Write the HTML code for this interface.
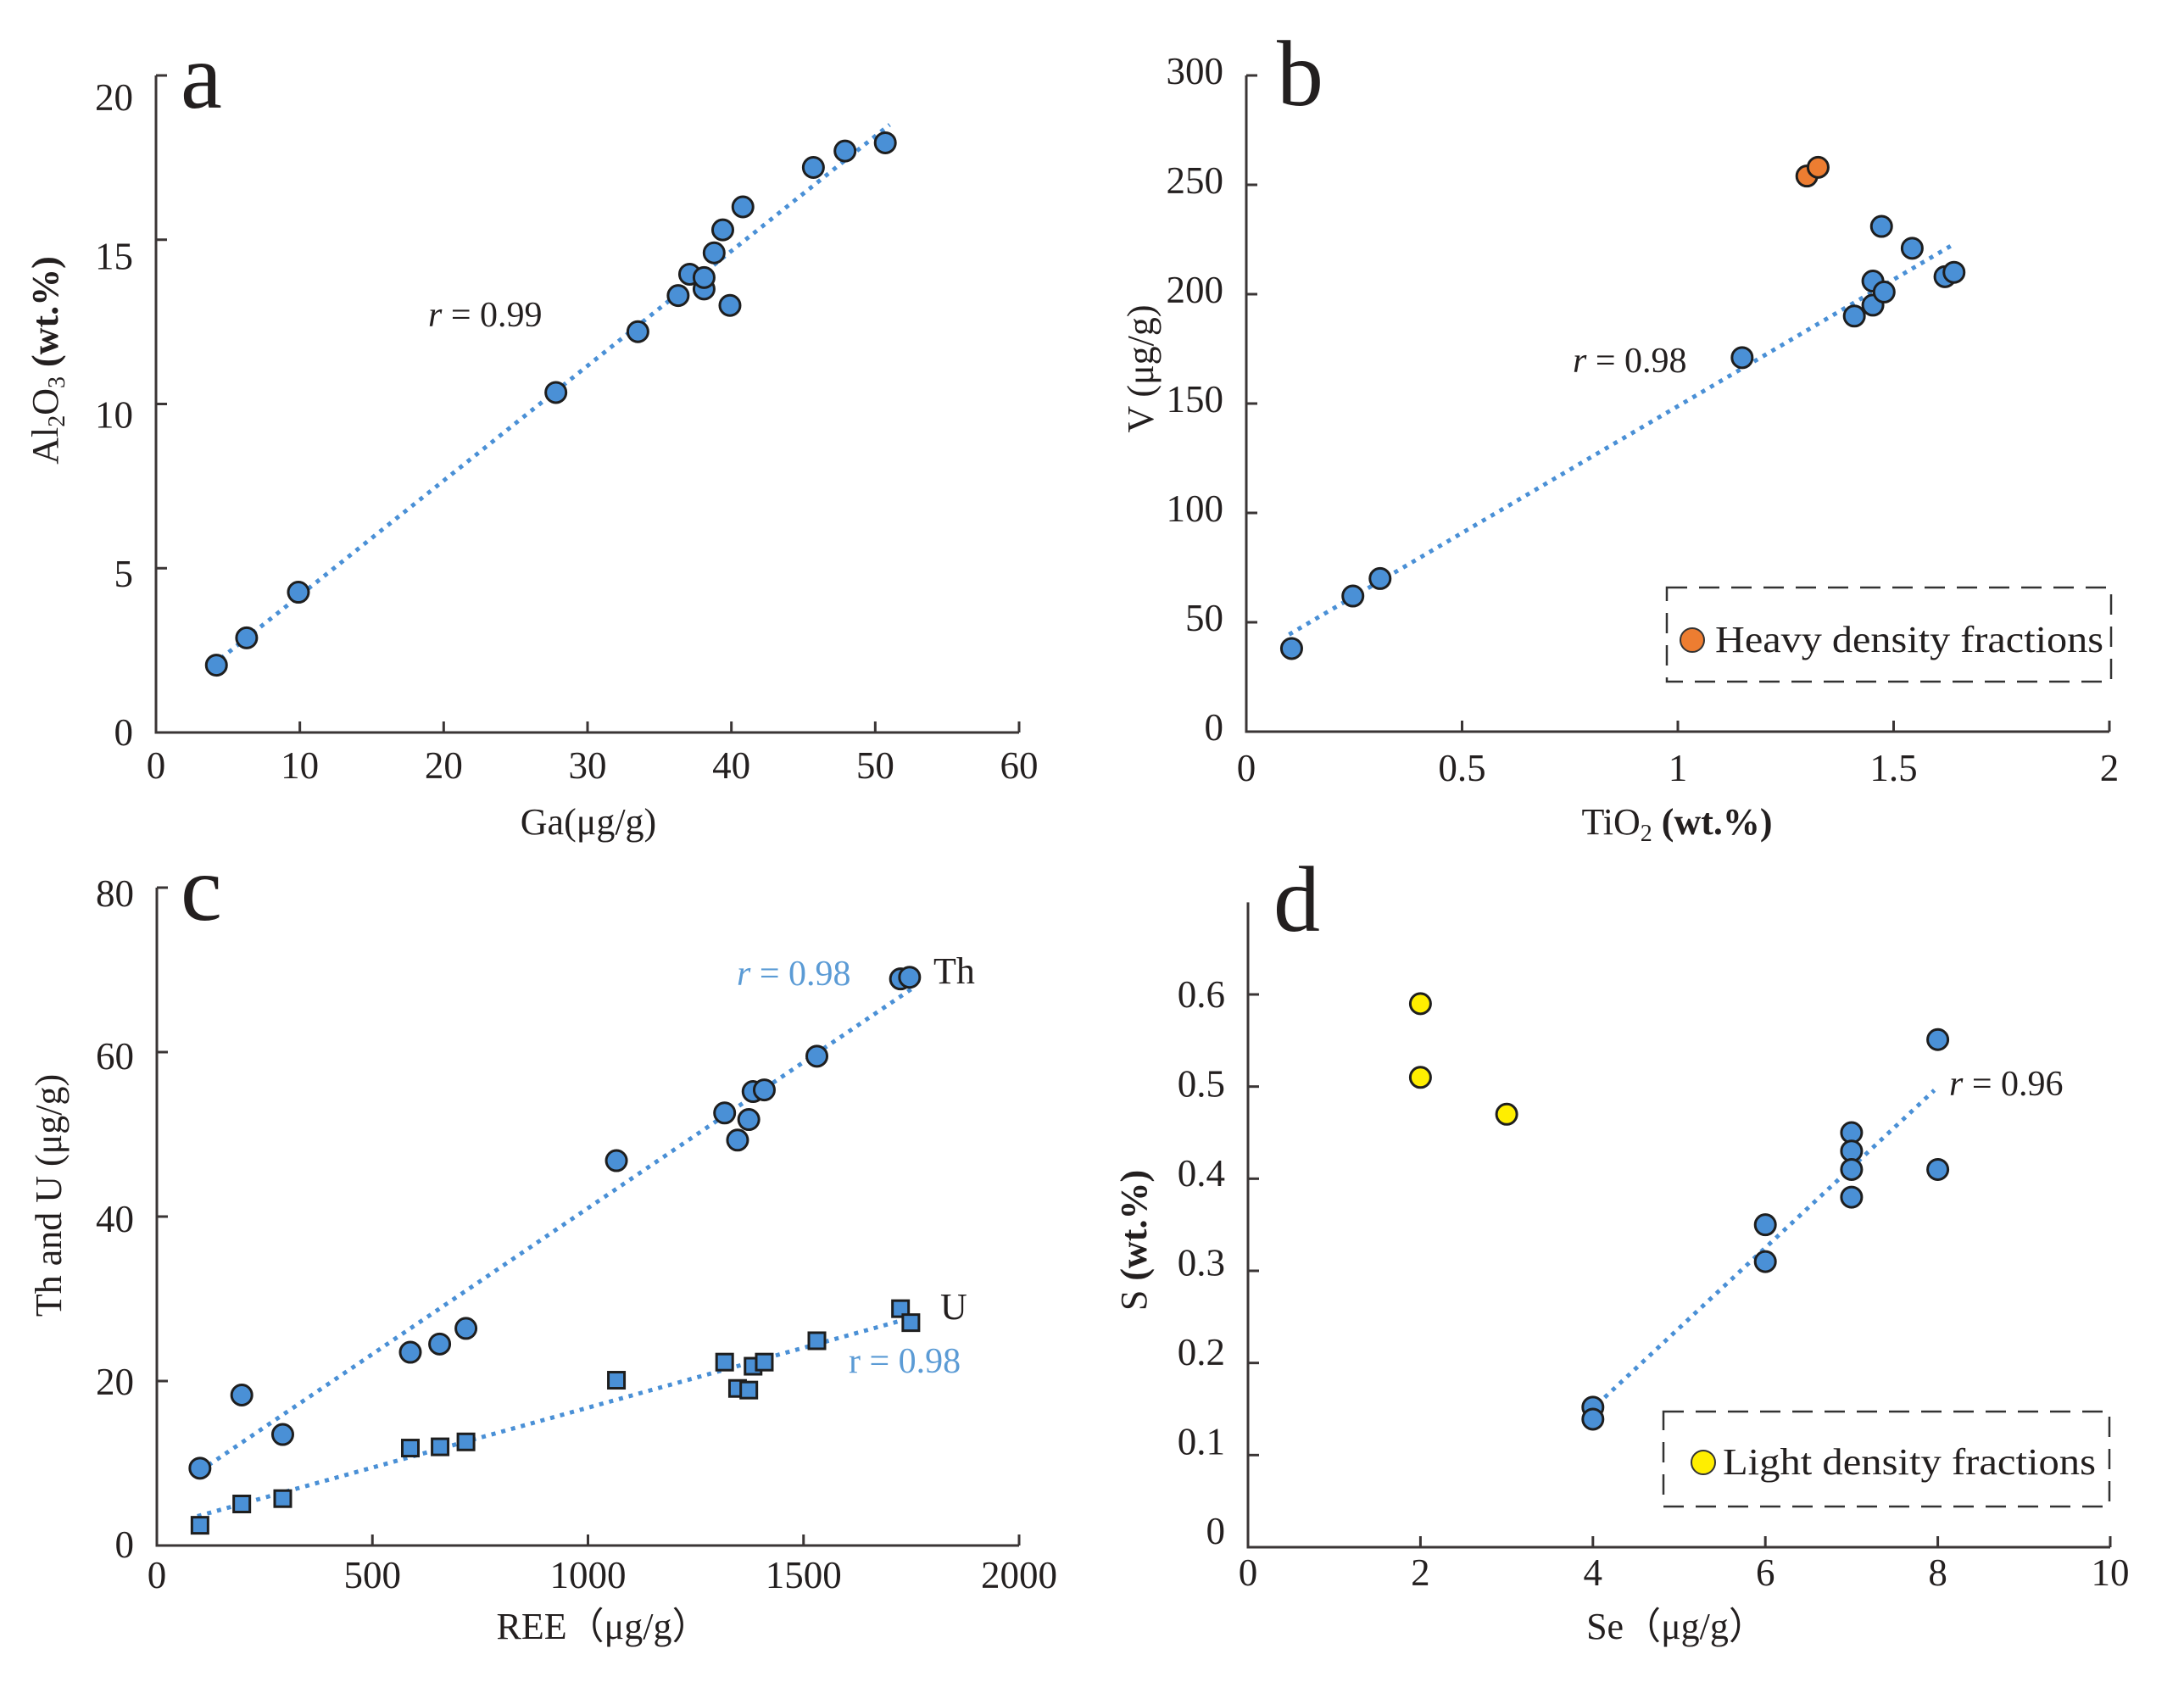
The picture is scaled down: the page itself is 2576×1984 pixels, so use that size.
<!DOCTYPE html>
<html><head><meta charset="utf-8">
<style>
html,body{margin:0;padding:0;background:#fff;}
svg{display:block;font-family:"Liberation Serif",serif;}
</style></head>
<body>
<svg id="fig" width="2576" height="1984" viewBox="0 0 2576 1984" xmlns="http://www.w3.org/2000/svg">
<rect width="2576" height="1984" fill="#fff"/>
<g id="pa"></g>
<g id="pb"></g>
<g id="pc"></g>
<g id="pd"></g>
</svg>
<script>
// Panel a: Ga vs Al2O3
const aGa = [4.2,6.3,9.9,27.8,33.5,36.3,37.1,38.1,38.1,38.8,39.4,39.9,40.8,45.7,47.9,50.7];
const aAl = [2.05,2.88,4.27,10.35,12.2,13.3,13.95,13.5,13.85,14.6,15.3,13.0,16.0,17.2,17.7,17.95];
const aTrendX = [4.5,51];
const aTrendY = [2.25,18.5];
const aXTicks = [0,10,20,30,40,50,60];
const aYTicks = [0,5,10,15,20];
// Panel b: TiO2 vs V
const bTi = [0.105,0.247,0.31,1.149,1.409,1.452,1.452,1.478,1.472,1.543,1.619,1.64];
const bV = [38,62,70,171,190,195,206,201,231,221,208,210];
const bHeavyTi = [1.299,1.325];
const bHeavyV = [254,258];
const bTrendX = [0.099,1.632];
const bTrendY = [44.4,222];
const bXTicks = [0,0.5,1,1.5,2];
const bYTicks = [0,50,100,150,200,250,300];
// Panel c: REE vs Th and U
const cREE = [100,197,292,588,656,717,1066,1317,1347,1373,1383,1409,1531,1725,1746];
const cTh = [9.4,18.3,13.5,23.5,24.5,26.4,46.8,52.6,49.3,51.8,55.2,55.4,59.5,68.9,69.1];
const cREEu = [100,197,292,588,657,717,1066,1317,1347,1373,1383,1409,1531,1725,1749];
const cU = [2.46,5.05,5.7,11.85,12.0,12.6,20.1,22.3,19.1,18.9,21.8,22.3,24.9,28.8,27.1];
const cThTrendX = [100,1754];
const cThTrendY = [9.07,67.8];
const cUTrendX = [94,1737];
const cUTrendY = [3.56,27.5];
const cXTicks = [0,500,1000,1500,2000];
const cYTicks = [0,20,40,60,80];
// Panel d: Se vs S
const dSe = [4,4,6,6,7,7,7,7,8,8];
const dS = [0.152,0.139,0.35,0.31,0.45,0.43,0.41,0.38,0.551,0.41];
const dLightSe = [2,2,3];
const dLightS = [0.59,0.51,0.47];
const dTrendX = [4.05,7.96];
const dTrendY = [0.155,0.496];
const dXTicks = [0,2,4,6,8,10];
const dYTicks = [0,0.1,0.2,0.3,0.4,0.5,0.6];

const NS = "http://www.w3.org/2000/svg";
const BLUE = "#4a90d6", AX = "#3a3535";
function el(parent, tag, attrs, text){
  const e = document.createElementNS(NS, tag);
  for (const k in attrs) e.setAttribute(k, attrs[k]);
  if (text !== undefined) e.textContent = text;
  parent.appendChild(e); return e;
}
function makeScale(d0,d1,p0,p1){ return v => p0 + (v-d0)/(d1-d0)*(p1-p0); }

function axes(g, P){
  const sx = P.sx, sy = P.sy;
  const ax = el(g,'path',{d:`M${sx(P.x0)},${sy(P.yTop)} L${sx(P.x0)},${sy(P.y0)} L${sx(P.x1)},${sy(P.y0)}`,fill:'none',stroke:AX,'stroke-width':3});
  
  
  P.xt.forEach(v=>{
    const t = el(g,'line',{x1:sx(v),x2:sx(v),y1:sy(P.y0),y2:sy(P.y0)-13,stroke:AX,'stroke-width':3});
    
    
    const l = el(g,'text',{x:sx(v),y:P.xLabY,'text-anchor':'middle','font-size':45,fill:'#231f1f'},String(v));
    
    
  });
  const ymax = P.yt[P.yt.length-1];
  P.yt.forEach(v=>{
    const t = el(g,'line',{x1:sx(P.x0),x2:sx(P.x0)+13,y1:sy(v),y2:sy(v),stroke:AX,'stroke-width':3});
    
    
    const f = (v-P.y0)/(ymax-P.y0);
    const off = P.yOffBot + (P.yOffTop-P.yOffBot)*f;
    const l = el(g,'text',{x:sx(P.x0)-27,y:sy(v)+off,'text-anchor':'end','font-size':45,fill:'#231f1f'},String(v));
    
    
  });
}
function trend(g, P, xs, ys, name){
  const l = el(g,'line',{x1:P.sx(xs[0]),y1:P.sy(ys[0]),x2:P.sx(xs[1]),y2:P.sy(ys[1]),stroke:BLUE,'stroke-width':5,'stroke-dasharray':'5 7'});
  
  
}
function circles(g, P, xs, ys, fill, name){
  xs.forEach((x,i)=>{
    const c = el(g,'circle',{cx:P.sx(x),cy:P.sy(ys[i]),r:12,fill:fill,stroke:'#1e1e1e','stroke-width':3});
    
    
  });
}
function squares(g, P, xs, ys, name){
  xs.forEach((x,i)=>{
    const s = el(g,'rect',{x:P.sx(x)-9.5,y:P.sy(ys[i])-9.5,width:19,height:19,fill:BLUE,stroke:'#1e1e1e','stroke-width':3});
    
    
  });
}
function txt(g, attrs, content, name){
  const t = el(g,'text',attrs);
  t.innerHTML = content;
  
  
  return t;
}
function legend(g, box, cx, cy, color, label, tx, tw){
  const r = el(g,'rect',{x:box[0],y:box[1],width:box[2]-box[0],height:box[3]-box[1],fill:'none',stroke:'#333','stroke-width':2.5,'stroke-dasharray':'24 14'});
  
  
  const c = el(g,'circle',{cx:cx,cy:cy,r:14,fill:color,stroke:'#333','stroke-width':2});
  
  
  const t = el(g,'text',{x:tx,y:cy+14,'font-size':44,fill:'#231f1f',textLength:tw,lengthAdjust:'spacingAndGlyphs'},label);
  
  
}

// ---- Panel a
(function(){
  const g = document.getElementById('pa');
  const P = {x0:0,x1:60,y0:0,yTop:20,sx:makeScale(0,60,184,1202),sy:makeScale(0,20,864,89),xt:aXTicks,yt:aYTicks,xLabY:918,yOffTop:41,yOffBot:15};
  axes(g,P);
  trend(g,P,aTrendX,aTrendY,'trend-line');
  circles(g,P,aGa,aAl,BLUE,'data-point');
  txt(g,{x:213,y:127,'font-size':110,fill:'#231f1f'},'a','panel-label');
  txt(g,{x:505,y:385,'font-size':42,fill:'#231f1f'},'<tspan font-style="italic">r</tspan> = 0.99','correlation-label');
  txt(g,{x:694,y:984,'font-size':44,'text-anchor':'middle',fill:'#231f1f'},'Ga(μg/g)','x-axis-title');
  txt(g,{x:0,y:0,'font-size':44,'text-anchor':'middle',fill:'#231f1f',transform:'translate(68,425) rotate(-90)'},'Al<tspan font-size="28" dy="8">2</tspan><tspan dy="-8">O</tspan><tspan font-size="28" dy="8">3</tspan><tspan dy="-8" font-weight="bold"> (wt.%)</tspan>','y-axis-title');
})();

// ---- Panel b
(function(){
  const g = document.getElementById('pb');
  const P = {x0:0,x1:2,y0:0,yTop:300,sx:makeScale(0,2,1470,2488),sy:makeScale(0,300,863,89),xt:bXTicks,yt:bYTicks,xLabY:921,yOffTop:10,yOffBot:10};
  axes(g,P);
  trend(g,P,bTrendX,bTrendY,'trend-line');
  circles(g,P,bTi,bV,BLUE,'data-point');
  circles(g,P,bHeavyTi,bHeavyV,'#ed7d31','heavy-fraction-point');
  legend(g,[1966,693,2490,804],1996,755,'#ed7d31','Heavy density fractions',2023,458);
  txt(g,{x:1506,y:124,'font-size':110,fill:'#231f1f'},'b','panel-label');
  txt(g,{x:1855,y:439,'font-size':42,fill:'#231f1f'},'<tspan font-style="italic">r</tspan> = 0.98','correlation-label');
  txt(g,{x:1978,y:984,'font-size':44,'text-anchor':'middle',fill:'#231f1f'},'TiO<tspan font-size="28" dy="8">2</tspan><tspan dy="-8" font-weight="bold"> (wt.%)</tspan>','x-axis-title');
  txt(g,{x:0,y:0,'font-size':44,'text-anchor':'middle',fill:'#231f1f',transform:'translate(1360,435) rotate(-90)'},'V (μg/g)','y-axis-title');
})();

// ---- Panel c
(function(){
  const g = document.getElementById('pc');
  const P = {x0:0,x1:2000,y0:0,yTop:80,sx:makeScale(0,2000,185,1202),sy:makeScale(0,80,1823,1047),xt:cXTicks,yt:cYTicks,xLabY:1873,yOffTop:22,yOffBot:14};
  axes(g,P);
  trend(g,P,cThTrendX,cThTrendY,'th-trend-line');
  trend(g,P,cUTrendX,cUTrendY,'u-trend-line');
  circles(g,P,cREE,cTh,BLUE,'th-point');
  squares(g,P,cREEu,cU,'u-point');
  txt(g,{x:213,y:1085,'font-size':110,fill:'#231f1f'},'c','panel-label');
  txt(g,{x:869,y:1162,'font-size':42,fill:'#5b9bd5'},'<tspan font-style="italic">r</tspan> = 0.98','th-correlation-label');
  txt(g,{x:1101,y:1160,'font-size':44,fill:'#231f1f'},'Th','th-series-label');
  txt(g,{x:1109,y:1556,'font-size':44,fill:'#231f1f'},'U','u-series-label');
  txt(g,{x:1001,y:1619,'font-size':42,fill:'#5b9bd5'},'r = 0.98','u-correlation-label');
  txt(g,{x:711,y:1933,'font-size':44,'text-anchor':'middle',fill:'#231f1f'},'REE（μg/g）','x-axis-title');
  txt(g,{x:0,y:0,'font-size':44,'text-anchor':'middle',fill:'#231f1f',transform:'translate(72,1410) rotate(-90)'},'Th and U  (μg/g)','y-axis-title');
})();

// ---- Panel d
(function(){
  const g = document.getElementById('pd');
  const P = {x0:0,x1:10,y0:0,yTop:0.70,sx:makeScale(0,10,1472,2489),sy:makeScale(0,0.6,1825,1173),xt:dXTicks,yt:dYTicks,xLabY:1870,yOffTop:15,yOffBot:-4};
  axes(g,P);
  trend(g,P,dTrendX,dTrendY,'trend-line');
  circles(g,P,dSe,dS,BLUE,'data-point');
  circles(g,P,dLightSe,dLightS,'#ffee00','light-fraction-point');
  legend(g,[1962,1665,2488,1777],2009,1725,'#ffee00','Light density fractions',2032,440);
  txt(g,{x:1502,y:1098,'font-size':110,fill:'#231f1f'},'d','panel-label');
  txt(g,{x:2299,y:1292,'font-size':42,fill:'#231f1f'},'<tspan font-style="italic">r</tspan> = 0.96','correlation-label');
  txt(g,{x:1977,y:1933,'font-size':44,'text-anchor':'middle',fill:'#231f1f'},'Se（μg/g）','x-axis-title');
  txt(g,{x:0,y:0,'font-size':44,'text-anchor':'middle',fill:'#231f1f',transform:'translate(1352,1463) rotate(-90)'},'S <tspan font-weight="bold">(wt.%)</tspan>','y-axis-title');
})();
</script>
</body></html>
